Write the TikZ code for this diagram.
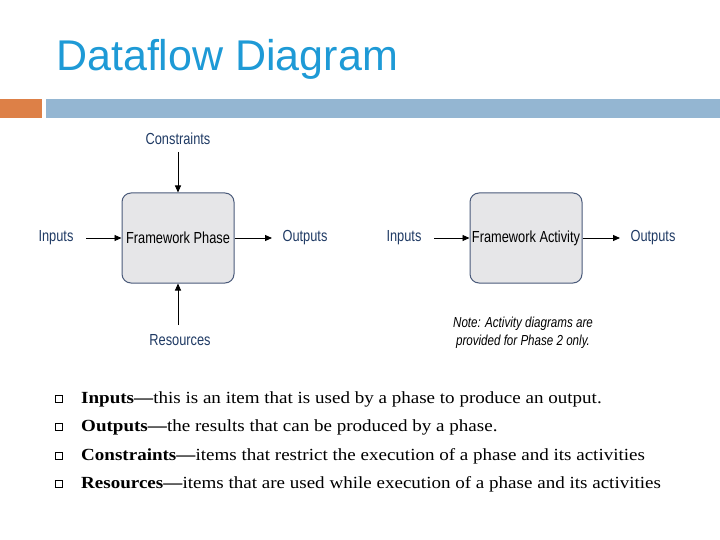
\documentclass[tikz,border=0pt]{standalone}
\usepackage{fontspec}
\setmainfont{Liberation Serif}
\newfontfamily\titlefont{Liberation Sans}
\newfontfamily\narrow[FakeStretch=0.8]{Liberation Sans}
\newfontfamily\bulfont[FakeStretch=1.12]{Liberation Serif}
\usetikzlibrary{arrows.meta}
\definecolor{ttl}{HTML}{1E9AD6}
\definecolor{lbl}{HTML}{1F3A64}
\definecolor{orng}{HTML}{DD8047}
\definecolor{bbar}{HTML}{94B6D2}
\definecolor{boxf}{HTML}{E6E6E8}
\definecolor{boxd}{HTML}{4A5A7A}
\tikzset{
 phase/.style={draw=boxd,fill=boxf,rounded corners=9pt,minimum width=112pt,minimum height=90pt,line width=1pt,inner sep=0pt},
 lab/.style={text=lbl,font=\narrow\fontsize{16}{18}\selectfont,inner sep=0pt},
 conn/.style={-{Triangle[length=7pt,width=6pt]},line width=0.9pt},
 bul/.style={draw=black,line width=0.6pt,minimum size=7.5pt,inner sep=0pt},
 btxt/.style={anchor=west,font=\bulfont\fontsize{17}{20}\selectfont,inner sep=0pt}
}
\begin{document}
\begin{tikzpicture}[x=1pt,y=-1pt]
\useasboundingbox (0,0) rectangle (720,540);
\node[anchor=west,text=ttl,font=\titlefont\fontsize{43}{48}\selectfont,inner sep=0pt] (title) at (56,59) {Dataflow Diagram};
\fill[orng] (0,99) rectangle (42,118);
\fill[bbar] (46,99) rectangle (720,118);
% left
\node[phase] (p1) at (178,238) {};
\node[font=\narrow\fontsize{16}{18}\selectfont,inner sep=0pt] (p1t) at (178,238) {Framework Phase};
\node[lab] (c1) at (178,139) {Constraints};
\node[lab] (r1) at (180,340) {Resources};
\node[lab] (i1) at (56,238) {Inputs};
\node[lab] (o1) at (305,238) {Outputs};
\coordinate (c1e) at (178,152);
\coordinate (r1e) at (178,325);
\coordinate (i1e) at (86,238);
\coordinate (o1e) at (272,238);
\draw[conn] (c1e) -- (p1.north);
\draw[conn] (r1e) -- (p1.south);
\draw[conn] (i1e) -- (p1.west);
\draw[conn] (p1.east) -- (o1e);
% right
\node[phase] (p2) at (526,238) {};
\node[font=\narrow\fontsize{16}{18}\selectfont,inner sep=0pt] (p2t) at (526,238) {Framework Activity};
\node[lab] (i2) at (404,238) {Inputs};
\node[lab] (o2) at (653,238) {Outputs};
\coordinate (i2e) at (434,238);
\coordinate (o2e) at (620,238);
\draw[conn] (i2e) -- (p2.west);
\draw[conn] (p2.east) -- (o2e);
\node[font=\narrow\itshape\fontsize{14.5}{18}\selectfont,align=center,inner sep=0pt] (note) at (523,333) {Note: Activity diagrams are\\provided for Phase 2 only.};
% bullets
\foreach \y/\n in {399/a,427/b,456/c,484/d}{\node[bul] (sq\n) at (59,\y) {};}
\node[btxt] (ta) at (81,399) {\textbf{Inputs—}this is an item that is used by a phase to produce an output.};
\node[btxt] (tb) at (81,427) {\textbf{Outputs—}the results that can be produced by a phase.};
\node[btxt] (tc) at (81,456) {\textbf{Constraints—}items that restrict the execution of a phase and its activities};
\node[btxt] (td) at (81,484) {\textbf{Resources—}items that are used while execution of a phase and its activities};
\end{tikzpicture}
\end{document}
